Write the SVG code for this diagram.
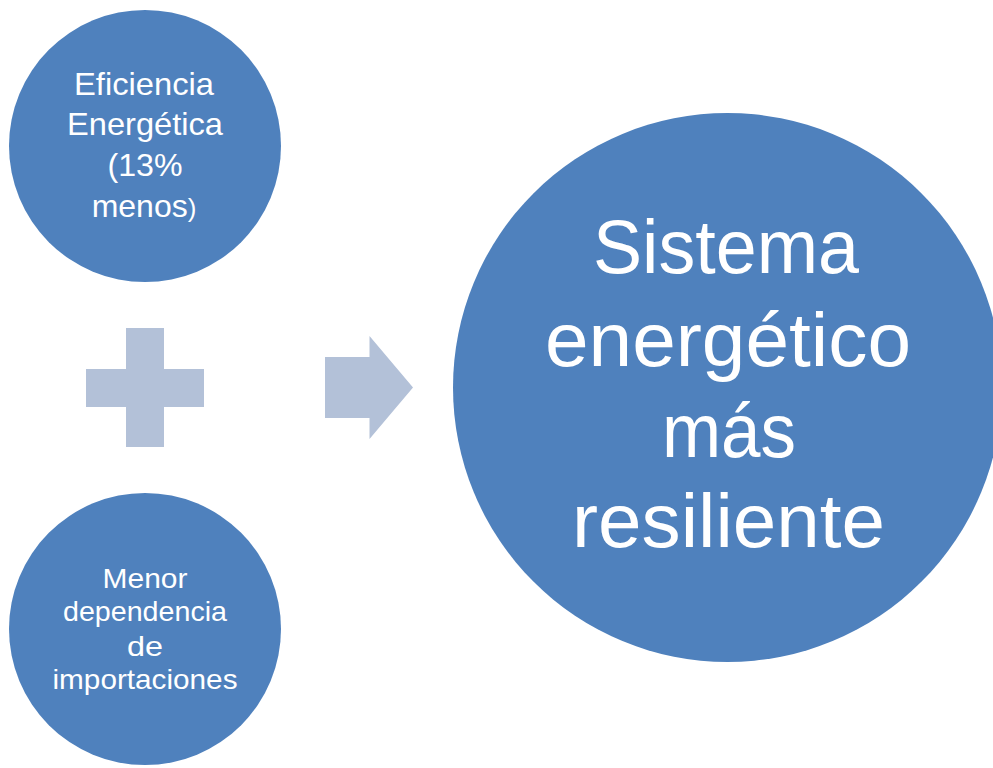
<svg xmlns="http://www.w3.org/2000/svg" width="993" height="768" viewBox="0 0 993 768">
  <style>
    .node { fill: #4F81BD; }
    .op { fill: #B3C1D8; }
    .t { fill: #FFFFFF; font-family: "Liberation Sans", Arial, sans-serif; text-anchor: middle; }
    .s1 { font-size: 32px; }
    .s2 { font-size: 28.5px; }
    .s3 { font-size: 76px; }
  </style>
  <rect width="993" height="768" fill="#FFFFFF"/>
  <g id="node-eficiencia">
    <circle class="node" cx="145" cy="146" r="136"/>
    <text class="t s1" x="144" y="95" textLength="140" lengthAdjust="spacingAndGlyphs">Eficiencia</text>
    <text class="t s1" x="145" y="135" textLength="156" lengthAdjust="spacingAndGlyphs">Energética</text>
    <text class="t s1" x="145" y="176" textLength="75" lengthAdjust="spacingAndGlyphs">(13%</text>
    <text class="t s1" x="144" y="217">menos<tspan font-size="26px">)</tspan></text>
  </g>
  <g id="node-dependencia">
    <circle class="node" cx="145" cy="629" r="136"/>
    <text class="t s2" x="145" y="588" textLength="85" lengthAdjust="spacingAndGlyphs">Menor</text>
    <text class="t s2" x="145" y="621" textLength="164" lengthAdjust="spacingAndGlyphs">dependencia</text>
    <text class="t s2" x="145" y="656" textLength="36" lengthAdjust="spacingAndGlyphs">de</text>
    <text class="t s2" x="145" y="689" textLength="185" lengthAdjust="spacingAndGlyphs">importaciones</text>
  </g>
  <g id="node-sistema">
    <circle class="node" cx="727.5" cy="387.5" r="274.5"/>
    <text class="t s3" x="726" y="273" textLength="266" lengthAdjust="spacingAndGlyphs">Sistema</text>
    <text class="t s3" x="728" y="366" textLength="366" lengthAdjust="spacingAndGlyphs">energético</text>
    <text class="t s3" x="729" y="457" textLength="134" lengthAdjust="spacingAndGlyphs">más</text>
    <text class="t s3" x="728.5" y="547" textLength="313" lengthAdjust="spacingAndGlyphs">resiliente</text>
  </g>
  <g id="connectors">
    <path id="plus" class="op" d="M126,328 H164 V369 H204 V407 H164 V447 H126 V407 H86 V369 H126 Z"/>
    <path id="arrow" class="op" d="M325,357 H369.5 V336 L413,387.5 L369.5,439 V418 H325 Z"/>
  </g>
</svg>
